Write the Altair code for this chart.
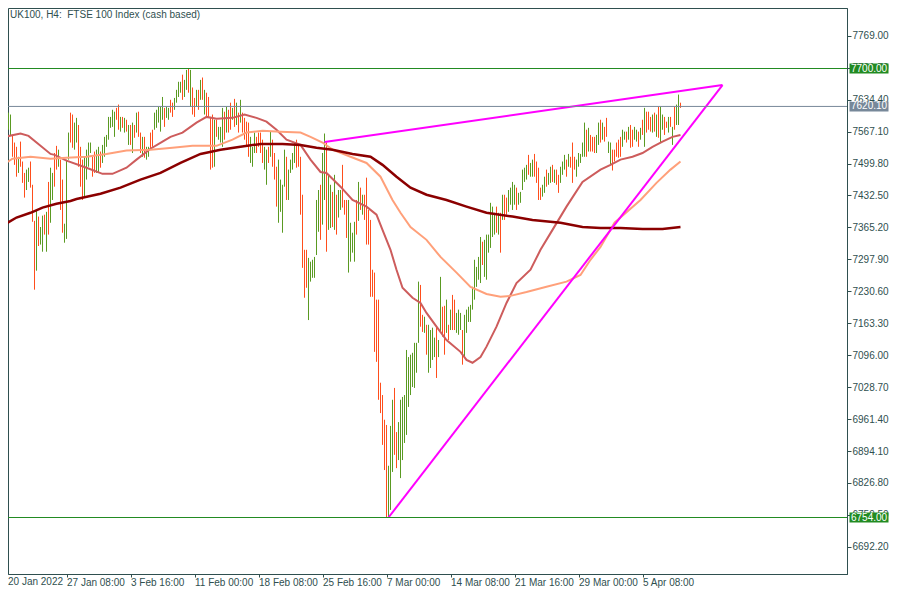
import altair as alt
import pandas as pd

TITLE = "UK100, H4:\u00a0 FTSE 100 Index (cash based)"

# ---------------- H4 bars (high / low / direction u=up d=down), bar index 1..339
highs_a = [7634, 7647, 7607, 7603, 7560, 7544, 7535, 7514, 7546, 7504,
           7480, 7487, 7491, 7504, 7455, 7379, 7402, 7388, 7366, 7390,
           7392, 7398, 7461, 7491, 7480, 7522, 7537, 7529, 7508, 7466,
           7373, 7508, 7565, 7607, 7603, 7586, 7596, 7581, 7535, 7508,
           7514, 7529, 7544, 7544, 7514, 7525, 7529, 7535, 7525, 7539]
lows_a = [7596, 7575, 7571, 7560, 7514, 7497, 7472, 7480, 7493, 7459,
          7428, 7444, 7461, 7449, 7377, 7234, 7274, 7326, 7329, 7314,
          7350, 7314, 7350, 7375, 7423, 7451, 7487, 7493, 7402, 7354,
          7333, 7341, 7508, 7544, 7533, 7529, 7544, 7493, 7451, 7423,
          7428, 7466, 7493, 7522, 7472, 7480, 7480, 7480, 7491, 7501]
dirs_a = "uduudddudd" "duuddduduu" "duduuddudd" "uuudduuddd" "uuuudduudu"

highs_b = [7556, 7560, 7598, 7598, 7613, 7609, 7617, 7624, 7598, 7598,
           7596, 7592, 7581, 7581, 7586, 7581, 7607, 7609, 7565, 7556,
           7556, 7535, 7535, 7565, 7571, 7607, 7613, 7619, 7619, 7640,
           7617, 7619, 7617, 7634, 7628, 7638, 7655, 7672, 7672, 7687,
           7676, 7697, 7699, 7697, 7660, 7638, 7655, 7655, 7676, 7681]
lows_b = [7514, 7535, 7550, 7575, 7577, 7556, 7592, 7571, 7567, 7575,
          7565, 7567, 7539, 7539, 7522, 7554, 7565, 7556, 7522, 7514,
          7512, 7508, 7514, 7529, 7535, 7571, 7575, 7586, 7567, 7592,
          7577, 7596, 7592, 7607, 7598, 7613, 7628, 7640, 7649, 7634,
          7640, 7655, 7649, 7619, 7603, 7598, 7619, 7613, 7634, 7634]
dirs_b = "uuuuuuddud" "ududududdu" "duudduuuuu" "duudduuuud" "uududdudud"

highs_c = [7655, 7649, 7640, 7598, 7603, 7592, 7592, 7577, 7577, 7617,
           7609, 7619, 7613, 7628, 7617, 7636, 7628, 7607, 7634, 7607,
           7596, 7588, 7586, 7556, 7535, 7565, 7556, 7565, 7565, 7550,
           7535, 7529, 7535, 7567, 7550, 7522, 7493, 7508, 7466, 7455,
           7529, 7514, 7487, 7508, 7522, 7544, 7550, 7539, 7514, 7434]
lows_c = [7603, 7598, 7598, 7487, 7491, 7493, 7556, 7550, 7544, 7535,
          7550, 7565, 7565, 7571, 7592, 7577, 7581, 7565, 7586, 7565,
          7550, 7535, 7514, 7501, 7493, 7522, 7522, 7535, 7522, 7501,
          7487, 7455, 7501, 7514, 7493, 7466, 7409, 7375, 7398, 7354,
          7451, 7423, 7423, 7480, 7487, 7501, 7491, 7493, 7392, 7280]
dirs_c = "udddduduuu" "duddududud" "ddduuudddd" "uududdduuu" "uduuuudddd"

highs_d = [7318, 7318, 7301, 7293, 7297, 7303, 7423, 7444, 7455, 7522,
           7563, 7544, 7476, 7455, 7440, 7476, 7434, 7444, 7444, 7497,
           7423, 7423, 7423, 7375, 7354, 7377, 7423, 7461, 7449, 7434,
           7434, 7470, 7402, 7381, 7276, 7270, 7213, 7213, 7038, 7012,
           6960, 6949, 6863, 6947, 7002, 7027, 6934, 6955, 7002, 7008]
lows_d = [7217, 7238, 7170, 7251, 7259, 7259, 7307, 7356, 7339, 7371,
          7423, 7314, 7360, 7364, 7366, 7360, 7350, 7386, 7402, 7407,
          7392, 7343, 7270, 7293, 7312, 7293, 7350, 7379, 7402, 7392,
          7381, 7329, 7329, 7219, 7219, 7103, 7082, 7002, 6974, 6907,
          6854, 6754, 6755, 6770, 6850, 6886, 6858, 6875, 6837, 6875]
dirs_d = "dduuuuuu" "duuduududu" "uddduuuudu" "dudddddddd" "dddduuuddu" "uu"

highs_e = [7012, 7107, 7092, 7097, 7101, 7122, 7122, 7251, 7244, 7181,
           7177, 7160, 7160, 7149, 7154, 7133, 7156, 7128, 7261, 7198,
           7200, 7213, 7160, 7192, 7223, 7213, 7185, 7192, 7185, 7149,
           7181, 7192, 7198, 7202, 7240, 7297, 7282, 7303, 7345, 7335,
           7339, 7350, 7350, 7417, 7409, 7396, 7409, 7396, 7396, 7434]
lows_e = [6911, 6928, 6987, 7012, 7029, 7027, 7059, 7122, 7156, 7145,
          7143, 7097, 7059, 7069, 7086, 7092, 7048, 7092, 7143, 7135,
          7097, 7143, 7128, 7149, 7149, 7149, 7143, 7139, 7149, 7076,
          7090, 7143, 7166, 7166, 7192, 7213, 7240, 7255, 7248, 7286,
          7261, 7255, 7312, 7322, 7345, 7350, 7354, 7350, 7312, 7381]
dirs_e = "uuuuuuuu" "dduduuuudu" "uddududduu" "uduuuuuuuu" "uduuuuuudu" "du"

highs_f = [7434, 7428, 7444, 7449, 7461, 7455, 7449, 7438, 7440, 7487,
           7491, 7497, 7518, 7501, 7508, 7520, 7504, 7491, 7449, 7455,
           7472, 7487, 7480, 7493, 7497, 7487, 7487, 7476, 7493, 7504,
           7518, 7508, 7520, 7514, 7544, 7514, 7508, 7522, 7520, 7544,
           7586, 7571, 7575, 7560, 7556, 7556, 7560, 7586, 7592, 7586]
lows_f = [7381, 7392, 7398, 7413, 7402, 7413, 7402, 7413, 7417, 7444,
          7461, 7466, 7476, 7472, 7472, 7472, 7459, 7423, 7423, 7430,
          7438, 7451, 7455, 7459, 7461, 7459, 7455, 7438, 7459, 7476,
          7487, 7472, 7493, 7491, 7459, 7487, 7472, 7493, 7501, 7514,
          7514, 7514, 7525, 7525, 7525, 7522, 7522, 7539, 7544, 7550]
dirs_f = "dduuuudu" "uuuuduuddd" "duuduududd" "uuududdduu" "uuududdduu" "du"

highs_g = [7577, 7596, 7546, 7544, 7529, 7529, 7544, 7550, 7556, 7571,
           7567, 7567, 7577, 7581, 7571, 7577, 7571, 7567, 7575, 7592,
           7617, 7609, 7609, 7598, 7603, 7607, 7603, 7619, 7619, 7603,
           7598, 7588, 7598, 7598, 7577, 7619, 7624, 7645, 7628]
lows_g = [7546, 7556, 7522, 7497, 7485, 7504, 7514, 7512, 7514, 7535,
          7550, 7544, 7550, 7533, 7535, 7550, 7546, 7535, 7550, 7560,
          7535, 7565, 7571, 7567, 7565, 7567, 7556, 7554, 7544, 7571,
          7560, 7575, 7565, 7577, 7539, 7571, 7581, 7581, 7617]
dirs_g = "dduudddd" "duududduud" "ududddudud" "uuddududuu" "d"

# ---------------- moving averages (bar index, value)
fast_bar = [1, 9, 13, 24, 26, 32, 42, 50, 55, 62, 67, 74, 80, 84, 90, 97, 102, 107, 115, 121,
            127, 132, 137, 142, 149, 154, 159, 162, 169, 175, 182, 187, 190, 194, 197, 200, 205, 209, 212, 217,
            222, 229, 232, 235, 239, 242, 247, 252, 257, 264, 269, 275, 282, 290, 299, 304, 309, 315, 320, 325,
            330, 335, 339]
fast_val = [7556, 7563, 7558, 7520, 7518, 7506, 7491, 7478, 7478, 7491, 7508, 7531, 7546, 7556, 7565, 7586, 7598, 7594, 7596, 7603,
            7596, 7588, 7571, 7550, 7539, 7508, 7482, 7480, 7451, 7423, 7409, 7392, 7360, 7318, 7276, 7238, 7217, 7206, 7185, 7156,
            7128, 7103, 7086, 7080, 7092, 7114, 7156, 7206, 7248, 7276, 7318, 7360, 7409, 7461, 7487, 7497, 7508, 7514, 7522, 7535,
            7546, 7556, 7560]
mid_bar = [1, 5, 14, 24, 32, 42, 52, 62, 74, 85, 95, 107, 115, 122, 130, 139, 149, 154, 160, 165,
           174, 182, 189, 195, 199, 204, 212, 219, 227, 234, 242, 249, 254, 262, 272, 282, 289, 294, 299, 306,
           319, 327, 334, 339]
mid_val = [7499, 7510, 7514, 7510, 7512, 7514, 7520, 7527, 7529, 7533, 7537, 7537, 7550, 7565, 7569, 7567, 7565, 7556, 7544, 7529,
           7514, 7501, 7472, 7423, 7396, 7366, 7339, 7303, 7270, 7240, 7225, 7219, 7221, 7229, 7240, 7251, 7265, 7297, 7324, 7375,
           7423, 7459, 7487, 7504]
slow_bar = [1, 7, 14, 20, 27, 34, 37, 49, 59, 69, 79, 89, 99, 109, 119, 129, 140, 149, 157, 165,
            175, 184, 190, 197, 204, 212, 222, 232, 242, 255, 265, 279, 290, 299, 309, 320, 330, 339]
slow_val = [7371, 7386, 7396, 7407, 7415, 7421, 7425, 7436, 7449, 7466, 7480, 7501, 7520, 7529, 7535, 7541, 7541, 7539, 7533, 7529,
            7520, 7514, 7497, 7472, 7449, 7434, 7423, 7409, 7396, 7388, 7381, 7375, 7366, 7364, 7364, 7362, 7362, 7366]

# ---------------- trend lines (bar index, price)
upper_bar = [161, 360]
upper_val = [7545, 7665]
lower_bar = [193, 360]
lower_val = [6754, 7665]

# ---------------- horizontal levels
level_price = [7700.0, 7620.1, 6754.0]
level_color = ["#228B22", "#778899", "#228B22"]

# ---------------- axes
date_ticks = [32, 64, 96, 128, 160, 192, 224, 256, 288, 320]
date_labels = ["27 Jan 08:00", "3 Feb 16:00", "11 Feb 00:00", "18 Feb 08:00", "25 Feb 16:00",
               "7 Mar 00:00", "14 Mar 08:00", "21 Mar 16:00", "29 Mar 00:00", "5 Apr 08:00"]
first_label = "20 Jan 2022"
price_ticks = [7836.3, 7769.0, 7701.7, 7634.4, 7567.1, 7499.8, 7432.5, 7365.2, 7297.9, 7230.6,
               7163.3, 7096.0, 7028.7, 6961.4, 6894.1, 6826.8, 6759.5, 6692.2]

# ---------------- styling
W, H = 839, 566
XD = [2.75, 422.25]
YD = [6634.96, 7827.47]
UP, DOWN = "#5A9A22", "#FF4E1C"
FG = "#2F4F4F"
FONT = "Liberation Sans"
FS = 10

xs = alt.Scale(domain=XD, nice=False, zero=False)
ys = alt.Scale(domain=YD, nice=False, zero=False)

label_js = "[" + ",".join("'%s'" % s for s in date_labels) + "]"
xax = alt.Axis(values=date_ticks, labelExpr=label_js + "[round(datum.value/32)-1]", title=None,
               grid=False, orient="bottom", tickSize=3, tickColor=FG, domainColor=FG,
               labelColor=FG, labelFont=FONT, labelFontSize=FS, labelAlign="left",
               labelBaseline="top", labelPadding=0, labelOverlap=False, labelFlush=False)
yax = alt.Axis(values=price_ticks, format=".2f", title=None, grid=False, orient="right",
               tickSize=4, tickColor=FG, domainColor=FG, labelColor=FG, labelFont=FONT,
               labelFontSize=FS, labelAlign="left", labelBaseline="middle", labelPadding=1,
               labelOverlap=False, labelFlush=False)

highs = highs_a + highs_b + highs_c + highs_d + highs_e + highs_f + highs_g
lows = lows_a + lows_b + lows_c + lows_d + lows_e + lows_f + lows_g
dirs = dirs_a + dirs_b + dirs_c + dirs_d + dirs_e + dirs_f + dirs_g
rows = [{"k": i + 1, "high": h, "low": l, "dir": d} for i, (h, l, d) in enumerate(zip(highs, lows, dirs))]
bars_df = pd.DataFrame(rows)

bars = alt.Chart(bars_df).mark_rule(strokeWidth=1, clip=True).encode(
    x=alt.X("k:Q", scale=xs, axis=xax),
    y=alt.Y("low:Q", scale=ys, axis=yax),
    y2="high:Q",
    color=alt.Color("dir:N", scale=alt.Scale(domain=["u", "d"], range=[UP, DOWN]), legend=None),
)


def ma_layer(b, v, color, width):
    df = pd.DataFrame({"k": b, "v": v})
    return alt.Chart(df).mark_line(color=color, strokeWidth=width, clip=True).encode(
        x=alt.X("k:Q", scale=xs, axis=xax), y=alt.Y("v:Q", scale=ys, axis=yax))


fast = ma_layer(fast_bar, fast_val, "#CD5C5C", 2)
mid = ma_layer(mid_bar, mid_val, "#FFA07A", 2)
slow = ma_layer(slow_bar, slow_val, "#8B0000", 2.5)
up_line = ma_layer(upper_bar, upper_val, "#FF00FF", 2)
lo_line = ma_layer(lower_bar, lower_val, "#FF00FF", 2)

lv_df = pd.DataFrame({"price": level_price, "col": level_color})
levels = alt.Chart(lv_df).mark_rule(strokeWidth=1).encode(
    y=alt.Y("price:Q", scale=ys, axis=yax),
    color=alt.Color("col:N", scale=None),
)
boxes = alt.Chart(lv_df).mark_tick(thickness=10, size=39, opacity=1).encode(
    y=alt.Y("price:Q", scale=ys, axis=yax),
    x=alt.value(W + 22),
    color=alt.Color("col:N", scale=None),
)
box_text = alt.Chart(lv_df).mark_text(align="left", baseline="middle", color="white",
                                      font=FONT, fontSize=FS).encode(
    y=alt.Y("price:Q", scale=ys, axis=yax),
    x=alt.value(W + 4),
    text=alt.Text("price:Q", format=".2f"),
)

title = alt.Chart(pd.DataFrame({"t": [TITLE]})).mark_text(
    align="left", baseline="top", color=FG, font=FONT, fontSize=10).encode(
    x=alt.value(2), y=alt.value(2), text="t:N")

first = alt.Chart(pd.DataFrame({"t": [first_label]})).mark_text(
    align="left", baseline="top", color=FG, font=FONT, fontSize=FS).encode(
    x=alt.value(0), y=alt.value(H + 3), text="t:N")

chart = alt.layer(bars, fast, mid, slow, up_line, lo_line, levels, boxes, box_text, title, first).properties(
    width=W, height=H,
    padding={"left": 0, "top": 0, "right": 45, "bottom": 15},
    autosize=alt.AutoSizeParams(type="none"),
    background="white",
).configure_view(stroke=FG, strokeWidth=1)

chart.save("out.html", embed_options={"renderer": "svg", "actions": False})
